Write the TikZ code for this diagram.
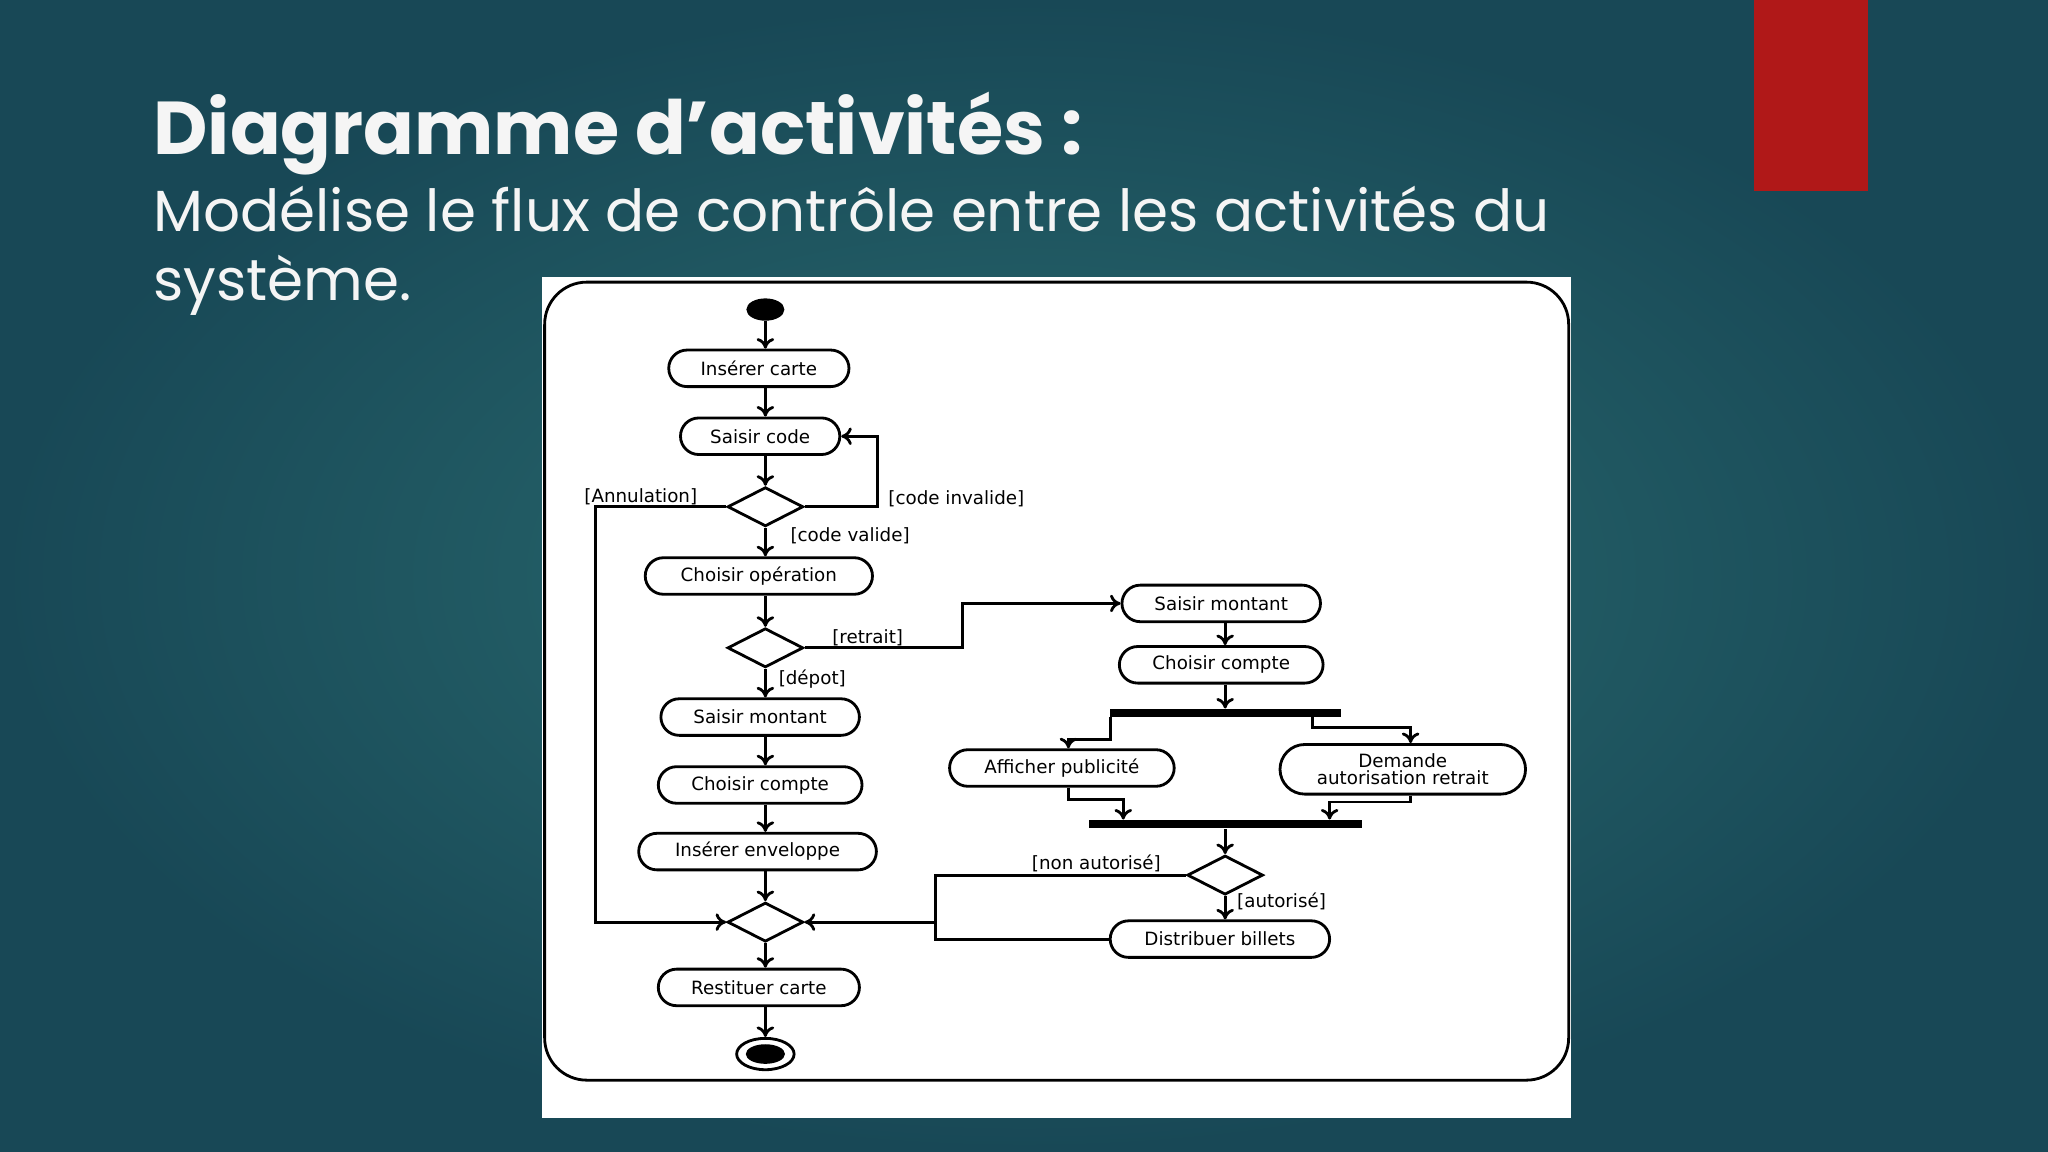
\documentclass[tikz,border=0pt]{standalone}
\usepackage{fontspec}
\setmainfont{Poppins}
\newfontfamily\diafont{DejaVu Sans}
\usetikzlibrary{shapes.geometric,shapes.misc,arrows.meta}
\definecolor{bgin}{RGB}{42,108,112}
\definecolor{bgout}{RGB}{24,72,86}
\definecolor{redbar}{RGB}{176,24,24}
\begin{document}
\begin{tikzpicture}[x=0.013061cm,y=-0.013061cm,
  act/.style={draw,thick,rounded rectangle,minimum height=28*0.3716pt,inner sep=0pt,font=\diafont\fontsize{5.2}{6}\selectfont,fill=white},
  dec/.style={draw,thick,diamond,minimum width=58*0.3716pt,minimum height=30*0.3716pt,inner sep=0pt,aspect=2},
  fl/.style={thick,-{To[length=3pt,width=5pt]}},
  ln/.style={thick},
  lab/.style={font=\diafont\fontsize{5.2}{6}\selectfont,inner sep=1pt},
  bar/.style={fill=black,inner sep=0pt,minimum height=6*0.3716pt}]
\useasboundingbox (0,0) rectangle (1568,882);
\shade[inner color=bgin,outer color=bgout] (0,0) rectangle (1568,882);
\fill[redbar] (1343,0) rectangle (1430,146);
\node[anchor=base west,text=white!92!gray,font=\bfseries\fontsize{21.3}{26}\selectfont,inner sep=0] (title) at (117,118) {Diagramme d{\char"27}activités :};
\node[anchor=base west,text=white!92!gray,font=\fontsize{16.5}{20}\selectfont,inner sep=0] (sub1) at (117,177) {Modélise le flux de contrôle entre les activités du};
\node[anchor=base west,text=white!92!gray,font=\fontsize{16.5}{20}\selectfont,inner sep=0] (sub2) at (117,230) {système.};
\fill[white] (415,212) rectangle (1203,856);
\draw[thick,rounded corners=12] (417,216) rectangle (1201,827);
% left column
\node[draw,fill=black,ellipse,minimum width=28*0.3716pt,minimum height=16*0.3716pt,inner sep=0] (st) at (586,237) {};
\node[act,minimum width=138*0.3716pt] (ic) at (581,282) {Insérer carte};
\node[act,minimum width=122*0.3716pt] (sc) at (582,334) {Saisir code};
\node[dec] (d1) at (586,388) {};
\node[act,minimum width=174*0.3716pt] (co) at (581,441) {Choisir opération};
\node[dec] (d2) at (586,496) {};
\node[act,minimum width=152*0.3716pt] (sm) at (582,549) {Saisir montant};
\node[act,minimum width=156*0.3716pt] (cc) at (582,601) {Choisir compte};
\node[act,minimum width=182*0.3716pt] (ie) at (580,652) {Insérer enveloppe};
\node[dec] (d3) at (586,706) {};
\node[act,minimum width=154*0.3716pt] (rc) at (581,756) {Restituer carte};
\node[draw,thick,ellipse,minimum width=44*0.3716pt,minimum height=24*0.3716pt,inner sep=0] (en) at (586,807) {};
\node[fill=black,ellipse,minimum width=30*0.3716pt,minimum height=15*0.3716pt,inner sep=0] (enin) at (586,807) {};
% right column
\node[act,minimum width=152*0.3716pt] (sm2) at (935,462) {Saisir montant};
\node[act,minimum width=156*0.3716pt] (cc2) at (935,509) {Choisir compte};
\node[bar,minimum width=177*0.3716pt] (fork) at (938.5,546) {};
\node[act,minimum width=172*0.3716pt] (ap) at (813,588) {Afficher publicité};
\node[act,minimum width=188*0.3716pt,minimum height=38*0.3716pt,align=center] (da) at (1074,589) {Demande\\[-1pt]autorisation retrait};
\node[bar,minimum width=209*0.3716pt] (join) at (938.5,631) {};
\node[dec] (d4) at (938,670) {};
\node[act,minimum width=168*0.3716pt] (db) at (934,719) {Distribuer billets};
\coordinate (j1) at (716,706);
% edges
\draw[fl] (st) -- (ic.north-|st);
\draw[fl] (ic.south-|586,0) -- (sc.north-|586,0);
\draw[fl] (sc.south-|586,0) -- (d1.north);
\draw[fl] (d1.east) -- (672,388) -- (672,334) -- (sc.east);
\node[lab,anchor=west] (l1) at (677,382) {[code invalide]};
\draw[fl] (d1.south) -- (co.north-|586,0);
\node[lab,anchor=west] (l2) at (602,410) {[code valide]};
\draw[fl] (d1.west) -- (456,388) -- (456,706) -- (d3.west);
\node[lab,anchor=east] (l3) at (537,380) {[Annulation]};
\draw[fl] (co.south-|586,0) -- (d2.north);
\draw[fl] (d2.east) -- (737,496) -- (737,462) -- (sm2.west);
\node[lab,anchor=west] (l4) at (634,488) {[retrait]};
\draw[fl] (d2.south) -- (sm.north-|586,0);
\node[lab,anchor=west] (l5) at (593,520) {[dépot]};
\draw[fl] (sm.south-|586,0) -- (cc.north-|586,0);
\draw[fl] (cc.south-|586,0) -- (ie.north-|586,0);
\draw[fl] (ie.south-|586,0) -- (d3.north);
\draw[fl] (d3.south) -- (rc.north-|586,0);
\draw[fl] (rc.south-|586,0) -- (en.north);
\draw[fl] (sm2.south-|938,0) -- (cc2.north-|938,0);
\draw[fl] (cc2.south-|938,0) -- (fork.north-|938,0);
\draw[fl] (850,549) -- (850,566) -- (818,566) -- (ap.north-|818,0);
\draw[fl] (1005,549) -- (1005,557) -- (1080,557) -- (da.north-|1080,0);
\draw[fl] (ap.south-|818,0) -- (818,612) -- (860,612) -- (join.north-|860,0);
\draw[fl] (da.south-|1080,0) -- (1080,614) -- (1018,614) -- (join.north-|1018,0);
\draw[fl] (join.south-|938,0) -- (d4.north);
\draw[fl] (d4.south) -- (db.north-|938,0);
\node[lab,anchor=west] (l6) at (944,690) {[autorisé]};
\draw[ln] (d4.west) -- (716,670) -- (j1);
\node[lab,anchor=east] (l7) at (892,661) {[non autorisé]};
\draw[ln] (db.west) -- (716,719) -- (j1);
\draw[fl] (j1) -- (d3.east);
\end{tikzpicture}
\end{document}
